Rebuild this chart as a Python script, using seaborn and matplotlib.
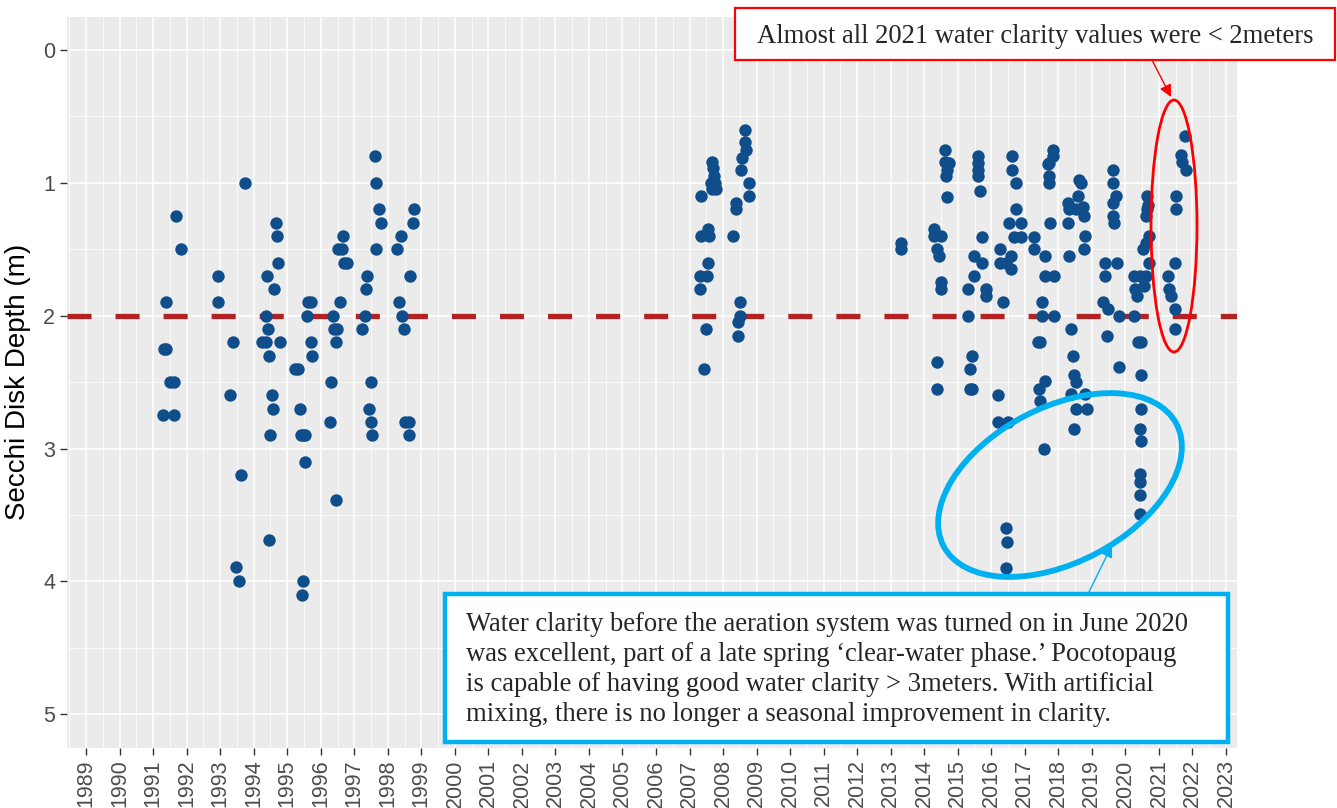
import matplotlib
matplotlib.use("Agg")
import numpy as np
import pandas as pd
import matplotlib.pyplot as plt
import seaborn as sns
from matplotlib.patches import Ellipse, Rectangle, FancyArrowPatch
from matplotlib.transforms import IdentityTransform

# Secchi readings: sampling date (decimal year) and depth (m)
date_90s = [1991.29, 1991.62, 1991.31, 1991.37, 1991.50, 1991.62, 1991.38, 1991.69, 1991.83,
            1992.92, 1992.92, 1993.37, 1993.28, 1993.73, 1993.63, 1993.48, 1993.55,
            1994.39, 1994.60, 1994.67, 1994.69, 1994.72, 1994.37, 1994.42, 1994.24, 1994.36,
            1994.77, 1994.45, 1994.54, 1994.57, 1994.50, 1994.47,
            1995.22, 1995.32, 1995.37, 1995.40, 1995.46, 1995.52, 1995.52, 1995.46, 1995.43,
            1995.62, 1995.72, 1995.60, 1995.70, 1995.75,
            1996.67, 1996.52, 1996.62, 1996.70, 1996.78, 1996.57, 1996.36, 1996.40, 1996.48,
            1996.44, 1996.29, 1996.27, 1996.46,
            1997.61, 1997.66, 1997.74, 1997.79, 1997.64, 1997.39, 1997.34, 1997.31, 1997.24,
            1997.51, 1997.44, 1997.49, 1997.54,
            1998.38, 1998.26, 1998.66, 1998.77, 1998.74, 1998.32, 1998.41, 1998.47, 1998.52,
            1998.62, 1998.62]
depth_90s = [2.75, 2.75, 2.25, 2.25, 2.50, 2.50, 1.90, 1.25, 1.50,
             1.70, 1.90, 2.20, 2.60, 1.00, 3.20, 3.89, 4.00,
             1.70, 1.80, 1.30, 1.40, 1.60, 2.00, 2.10, 2.20, 2.20,
             2.20, 2.30, 2.60, 2.70, 2.90, 3.69,
             2.40, 2.40, 2.70, 2.90, 2.90, 2.90, 3.10, 4.00, 4.10,
             1.90, 1.90, 2.00, 2.20, 2.30,
             1.40, 1.50, 1.50, 1.60, 1.60, 1.90, 2.00, 2.10, 2.10,
             2.20, 2.50, 2.80, 3.39,
             0.80, 1.00, 1.20, 1.30, 1.50, 1.70, 1.80, 2.00, 2.10,
             2.50, 2.70, 2.80, 2.90,
             1.40, 1.50, 1.70, 1.20, 1.30, 1.90, 2.00, 2.10, 2.80,
             2.80, 2.90]

date_0708 = [2007.68, 2007.70, 2007.72, 2007.64, 2007.76, 2007.66, 2007.78, 2007.34, 2007.56,
             2007.34, 2007.58, 2007.56, 2007.31, 2007.51, 2007.31, 2007.48, 2007.43,
             2008.30, 2008.66, 2008.64, 2008.69, 2008.56, 2008.54, 2008.78, 2008.78, 2008.40,
             2008.40, 2008.51, 2008.51, 2008.45, 2008.45]
depth_0708 = [0.84, 0.89, 0.95, 1.00, 1.00, 1.05, 1.05, 1.10, 1.35,
              1.40, 1.40, 1.60, 1.70, 1.70, 1.80, 2.10, 2.40,
              1.40, 0.60, 0.69, 0.75, 0.81, 0.90, 1.00, 1.10, 1.15,
              1.20, 1.90, 2.00, 2.05, 2.15]

date_1321 = [2013.32, 2013.32,
             2014.62, 2014.62, 2014.74, 2014.69, 2014.64, 2014.69, 2014.29, 2014.29, 2014.49,
             2014.39, 2014.44, 2014.49, 2014.49, 2014.39, 2014.39,
             2015.59, 2015.59, 2015.59, 2015.59, 2015.66, 2015.72, 2015.49, 2015.72, 2015.49,
             2015.31, 2015.84, 2015.84, 2015.31, 2015.42, 2015.36, 2015.36, 2015.44,
             2016.63, 2016.63, 2016.73, 2016.73, 2016.53, 2016.88, 2016.69, 2016.88, 2016.25,
             2016.25, 2016.43, 2016.58, 2016.58, 2016.34, 2016.19, 2016.19, 2016.51, 2016.43,
             2016.48, 2016.43,
             2017.83, 2017.83, 2017.73, 2017.68, 2017.71, 2017.71, 2017.75, 2017.26, 2017.26,
             2017.61, 2017.61, 2017.88, 2017.51, 2017.51, 2017.88, 2017.38, 2017.46, 2017.60,
             2017.43, 2017.45, 2017.56,
             2018.63, 2018.68, 2018.28, 2018.58, 2018.73, 2018.33, 2018.53, 2018.78, 2018.28,
             2018.81, 2018.78, 2018.32, 2018.38, 2018.44, 2018.46, 2018.52, 2018.38, 2018.81,
             2018.53, 2018.86, 2018.48,
             2019.62, 2019.62, 2019.72, 2019.62, 2019.62, 2019.67, 2019.38, 2019.75, 2019.38,
             2019.33, 2019.48, 2019.80, 2019.45, 2019.80,
             2020.65, 2020.67, 2020.65, 2020.62, 2020.71, 2020.62, 2020.52, 2020.71, 2020.25,
             2020.45, 2020.62, 2020.30, 2020.55, 2020.35, 2020.27, 2020.38, 2020.46, 2020.47,
             2020.47, 2020.45, 2020.48, 2020.45, 2020.45, 2020.45, 2020.43,
             2021.79, 2021.67, 2021.70, 2021.80, 2021.52, 2021.52, 2021.47, 2021.27, 2021.30,
             2021.36, 2021.47, 2021.47]
depth_1321 = [1.45, 1.50,
              0.75, 0.84, 0.85, 0.90, 0.95, 1.11, 1.35, 1.40, 1.40,
              1.50, 1.55, 1.75, 1.80, 2.35, 2.55,
              0.80, 0.85, 0.90, 0.95, 1.06, 1.41, 1.55, 1.60, 1.70,
              1.80, 1.80, 1.85, 2.00, 2.30, 2.40, 2.55, 2.55,
              0.80, 0.90, 1.00, 1.20, 1.30, 1.30, 1.41, 1.41, 1.50,
              1.60, 1.60, 1.55, 1.65, 1.90, 2.60, 2.80, 2.80, 3.60,
              3.70, 3.90,
              0.75, 0.80, 0.85, 0.86, 0.95, 1.00, 1.30, 1.41, 1.50,
              1.55, 1.70, 1.70, 1.90, 2.00, 2.00, 2.20, 2.20, 2.49,
              2.55, 2.64, 3.00,
              0.98, 1.00, 1.15, 1.10, 1.18, 1.20, 1.20, 1.25, 1.30,
              1.40, 1.50, 1.55, 2.10, 2.30, 2.45, 2.50, 2.59, 2.59,
              2.70, 2.70, 2.85,
              0.90, 1.00, 1.10, 1.15, 1.25, 1.30, 1.60, 1.60, 1.70,
              1.90, 1.95, 2.00, 2.15, 2.39,
              1.10, 1.17, 1.20, 1.25, 1.40, 1.45, 1.50, 1.60, 1.70,
              1.70, 1.70, 1.80, 1.78, 1.85, 2.00, 2.20, 2.20, 2.45,
              2.70, 2.85, 2.94, 3.19, 3.25, 3.35, 3.49,
              0.65, 0.79, 0.84, 0.90, 1.10, 1.20, 1.60, 1.70, 1.80,
              1.85, 1.95, 2.10]

years = list(range(1989, 2024))
depth_ticks = [0, 1, 2, 3, 4, 5]
clarity_line = 2

note_2021 = "Almost all 2021 water clarity values were < 2meters"
note_aeration = ["Water clarity before the aeration system was turned on in June 2020",
                 "was excellent, part of a late spring \u2018clear-water phase.\u2019 Pocotopaug",
                 "is capable of having good water clarity > 3meters. With artificial",
                 "mixing, there is no longer a seasonal improvement in clarity."]

df = pd.DataFrame({"date": date_90s + date_0708 + date_1321,
                   "depth": depth_90s + depth_0708 + depth_1321})

sns.set_theme(style="darkgrid", rc={
    "axes.facecolor": "#EBEBEB",
    "grid.color": "white",
    "lines.scale_dashes": False,
})
plt.rcParams["font.family"] = ["Liberation Sans", "DejaVu Sans"]

W, H = 1337, 808
fig = plt.figure(figsize=(W / 100, H / 100), dpi=100)
ax = fig.add_axes([67 / W, 1 - 747.5 / H, (1237 - 67) / W, (747.5 - 16.7) / H])

sns.scatterplot(data=df, x="date", y="depth", ax=ax, color="#104E8B",
                s=80, linewidth=0, zorder=3, legend=False)
ax.axhline(clarity_line, color="#B22222", lw=3.8, dashes=(17.3, 17.3), zorder=2)

ax.set_xlim(1988.43, 2023.33)
ax.set_ylim(5.25, -0.25)
ax.set_xticks(years)
ax.set_xticklabels([str(y) for y in years], rotation=90)
ax.set_xticks([y + 0.5 for y in range(1988, 2023)], minor=True)
ax.set_yticks(depth_ticks)
ax.set_yticks([d + 0.5 for d in depth_ticks[:-1]], minor=True)
ax.grid(which="major", color="white", lw=1.1)
ax.grid(which="minor", color="white", lw=0.55)
ax.tick_params(which="major", bottom=True, left=True, length=5, width=1,
               color="#333333", labelcolor="#4D4D4D", labelsize=15.5, pad=3.5)
ax.tick_params(which="minor", bottom=False, left=False)
for sp in ax.spines.values():
    sp.set_visible(False)
ax.set_xlabel("")
ax.set_ylabel("Secchi Disk Depth (m)", fontsize=20, color="black", labelpad=9)

# annotations, placed in pixel coordinates (origin bottom-left)
px = IdentityTransform()
serif = ["Liberation Serif", "DejaVu Serif"]
red = "#FF0000"
cyan = "#00B0F0"

fig.add_artist(Ellipse((1174, H - 226), 46, 252, fill=False, ec=red, lw=2,
                       transform=px, zorder=5))
fig.add_artist(Ellipse((1060, H - 485), 263, 155, angle=27.7, fill=False, ec=cyan,
                       lw=4.2, transform=px, zorder=5))

fig.add_artist(Rectangle((735, H - 60), 600, 52, fc="white", ec=red, lw=1.6,
                         transform=px, zorder=6))
fig.text(757, H - 43, note_2021, transform=px, family=serif, fontsize=19.2,
         va="baseline", ha="left", zorder=7)
fig.add_artist(FancyArrowPatch((1152, H - 60), (1171, H - 97), arrowstyle="-|>",
                               mutation_scale=18, color=red, lw=1, transform=px,
                               shrinkA=0, shrinkB=0, zorder=6))

fig.add_artist(Rectangle((445, H - 742), 783, 148, fc="white", ec=cyan, lw=3.2,
                         transform=px, zorder=6))
for i, line in enumerate(note_aeration):
    fig.text(466.5, H - (631 + 30 * i), line, transform=px, family=serif, fontsize=19.2,
             va="baseline", ha="left", zorder=7)
fig.add_artist(FancyArrowPatch((1088, H - 594), (1112, H - 545), arrowstyle="-|>",
                               mutation_scale=18, color=cyan, lw=1, transform=px,
                               shrinkA=0, shrinkB=0, zorder=6))

fig.savefig("out.png", dpi=100)
